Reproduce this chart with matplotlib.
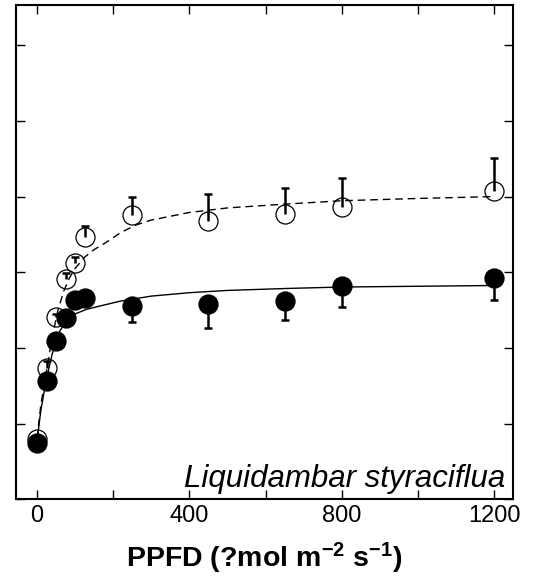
import numpy as np
import matplotlib.pyplot as plt

plt.rcParams['font.family'] = ['Liberation Sans', 'DejaVu Sans']
plt.rcParams['mathtext.default'] = 'regular'

# light response data (PPFD, net assimilation)
ppfd = [0, 25, 50, 75, 100, 125, 250, 450, 650, 800, 1200]

a_open = [-0.40, 1.46, 2.81, 3.81, 4.24, 4.92, 5.52, 5.36, 5.53, 5.73, 6.15]
err_open = [0.10, 0.19, 0.10, 0.16, 0.16, 0.30, 0.47, 0.70, 0.69, 0.75, 0.86]

a_filled = [-0.50, 1.13, 2.18, 2.79, 3.27, 3.33, 3.12, 3.16, 3.25, 3.64, 3.85]
err_filled = [0.10, 0.10, 0.10, 0.10, 0.10, 0.10, 0.44, 0.62, 0.52, 0.55, 0.57]

# fitted response curves
fit_x_open = [0, 10, 25, 40, 55, 70, 85, 100, 125, 150, 180, 220, 260, 300, 400, 500, 650, 800, 1000, 1200]
fit_y_open = [-0.40, 0.50, 1.40, 2.30, 3.00, 3.50, 3.85, 4.10, 4.40, 4.60, 4.78, 5.05, 5.25, 5.38, 5.58, 5.70, 5.80, 5.89, 5.95, 6.00]

fit_x_filled = [0, 10, 25, 40, 60, 80, 100, 130, 170, 220, 300, 400, 500, 650, 800, 1000, 1200]
fit_y_filled = [-0.45, 0.35, 1.20, 1.85, 2.45, 2.75, 2.90, 3.02, 3.12, 3.24, 3.37, 3.46, 3.52, 3.57, 3.61, 3.63, 3.65]

x_ticks = [0, 200, 400, 600, 800, 1000, 1200]
x_ticklabels = ['0', '', '400', '', '800', '', '1200']
y_ticks = [-2, 0, 2, 4, 6, 8, 10]

fig = plt.figure(figsize=(5.34, 5.79), dpi=100)
ax = fig.add_axes([0.0294, 0.1376, 0.9318, 0.8543])

ax.plot(fit_x_open, fit_y_open, color='black', lw=1.0, dashes=(5.5, 3.5), zorder=2)
ax.plot(fit_x_filled, fit_y_filled, color='black', lw=1.0, zorder=2)

# one-sided error bars: up for open, down for filled
x = np.array(ppfd)
top_open = np.array(a_open) + np.array(err_open)
bot_filled = np.array(a_filled) - np.array(err_filled)
ax.vlines(x, a_open, top_open, color='black', lw=1.8, zorder=3)
ax.plot(x, top_open, ls='none', marker='_', ms=6, mew=1.8, color='black', zorder=3)
ax.vlines(x, bot_filled, a_filled, color='black', lw=1.8, zorder=3)
ax.plot(x, bot_filled, ls='none', marker='_', ms=6, mew=1.8, color='black', zorder=3)

ax.plot(x, a_open, 'o', ms=13.7, mfc='none', mec='black', mew=0.9, zorder=4)
ax.plot(x, a_filled, 'o', ms=13.7, mfc='black', mec='black', mew=0.9, zorder=5)

ax.set_xlim(-56, 1250)
ax.set_ylim(-2, 11.07)
ax.set_xticks(x_ticks)
ax.set_xticklabels(x_ticklabels)
ax.set_yticks(y_ticks)
ax.set_yticklabels([])
ax.tick_params(direction='in', top=True, right=True, length=6.5, width=1.0,
               labelsize=17, pad=4)
for s in ax.spines.values():
    s.set_linewidth(1.5)

ax.set_xlabel('PPFD (?mol m$^{-2}$ s$^{-1}$)', fontsize=20.5, fontweight='bold', labelpad=10)
ax.text(0.983, 0.0255, 'Liquidambar styraciflua', transform=ax.transAxes,
        ha='right', va='baseline', fontsize=22.5, style='italic')

fig.savefig('out.png', dpi=100)
